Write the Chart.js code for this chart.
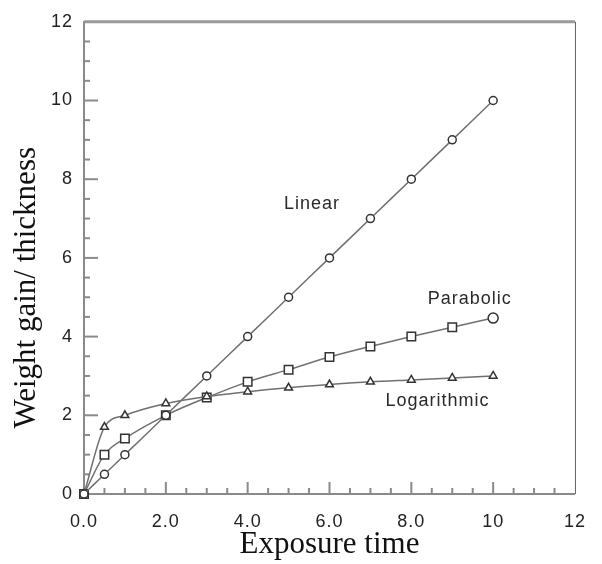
<!DOCTYPE html>
<html>
<head>
<meta charset="utf-8">
<script src="https://cdn.jsdelivr.net/npm/chart.js@4"></script>
<style>
  body { margin: 0; background: #fff; }
</style>
</head>
<body>
<canvas id="oxidationChart" width="602" height="564"></canvas>
<script>
const exposureTime = [0, 0.5, 1, 2, 3, 4, 5, 6, 7, 8, 9, 10];
const linearGain = [0, 0.5, 1, 2, 3, 4, 5, 6, 7, 8, 9, 10];
const parabolicGain = [0, 1.0, 1.41, 2.0, 2.45, 2.85, 3.16, 3.48, 3.75, 4.0, 4.24, 4.47];
const logarithmicGain = [0, 1.7, 2.0, 2.3, 2.48, 2.6, 2.7, 2.78, 2.85, 2.9, 2.95, 3.0];
const xTickLabels = ['0.0', '2.0', '4.0', '6.0', '8.0', '10', '12'];
const yTickLabels = ['0', '2', '4', '6', '8', '10', '12'];
const curveNames = ['Linear', 'Parabolic', 'Logarithmic'];

// where the curve names sit, in data units
const namePos = [[5.57, 7.38], [9.43, 4.95], [8.64, 2.35]];

const toPoints = (ys) => exposureTime.map((t, i) => ({ x: t, y: ys[i] }));

const lineGray = '#707070';
const markGray = '#333';

const frame = {
  id: 'frame',
  beforeDraw(chart) {
    chart.ctx.letterSpacing = '1px';
  },
  beforeDatasetsDraw(chart) {
    const { ctx, chartArea: a, scales: { x, y } } = chart;
    ctx.save();
    ctx.strokeStyle = '#9a9a9a';
    ctx.lineWidth = 3;
    ctx.beginPath();
    ctx.moveTo(a.left, a.top);
    ctx.lineTo(a.right, a.top);
    ctx.stroke();
    ctx.strokeStyle = '#666';
    ctx.lineWidth = 1;
    ctx.beginPath();
    ctx.moveTo(a.right + 0.5, a.top);
    ctx.lineTo(a.right + 0.5, a.bottom);
    ctx.stroke();

    // inward ticks, major every 2, minor every 0.5
    ctx.strokeStyle = '#8a8a8a';
    ctx.lineWidth = 2;
    for (let v = 0.5; v < 12; v += 0.5) {
      const major = v % 2 === 0;
      const py = y.getPixelForValue(v);
      ctx.beginPath();
      ctx.moveTo(a.left, py);
      ctx.lineTo(a.left + (major ? 14 : 6), py);
      ctx.stroke();
      const px = x.getPixelForValue(v);
      ctx.beginPath();
      ctx.moveTo(px, a.bottom);
      ctx.lineTo(px, a.bottom - (major ? 12 : 6));
      ctx.stroke();
    }
    ctx.restore();
  },
  afterDraw(chart) {
    const { ctx, chartArea: a, scales: { x, y } } = chart;
    ctx.save();
    ctx.fillStyle = '#2a2a2a';
    ctx.font = '18px "Liberation Sans", Arial, sans-serif';
    ctx.textAlign = 'center';
    ctx.textBaseline = 'middle';
    ctx.letterSpacing = '1px';
    curveNames.forEach((name, i) => {
      ctx.fillText(name, x.getPixelForValue(namePos[i][0]), y.getPixelForValue(namePos[i][1]));
    });

    ctx.letterSpacing = '0px';
    ctx.fillStyle = '#111';
    ctx.font = '31px "Liberation Serif", "Times New Roman", serif';
    ctx.fillText('Exposure time', (a.left + a.right) / 2, a.bottom + 51);
    ctx.translate(27, a.top + 266);
    ctx.rotate(-Math.PI / 2);
    ctx.fillText('Weight gain/ thickness', 0, 0);
    ctx.restore();
  }
};

const lineStyle = {
  borderColor: lineGray,
  borderWidth: 1.5,
  pointBorderColor: markGray,
  pointBackgroundColor: '#fff',
  pointBorderWidth: 1.5,
  cubicInterpolationMode: 'monotone',
  clip: false
};

new Chart(document.getElementById('oxidationChart'), {
  type: 'line',
  data: {
    datasets: [{
      ...lineStyle,
      label: curveNames[0],
      data: toPoints(linearGain),
      pointStyle: 'circle',
      pointRadius: 4
    }, {
      ...lineStyle,
      label: curveNames[2],
      data: toPoints(logarithmicGain),
      pointStyle: 'triangle',
      pointRadius: 4.5
    }, {
      ...lineStyle,
      label: curveNames[1],
      data: toPoints(parabolicGain),
      pointStyle: exposureTime.map((t, i) => i === exposureTime.length - 1 ? 'circle' : 'rect'),
      pointRadius: exposureTime.map((t, i) => i === exposureTime.length - 1 ? 5 : 6)
    }]
  },
  options: {
    responsive: false,
    animation: false,
    layout: { padding: { top: 14, right: 13, left: 0, bottom: 0 } },
    plugins: {
      legend: { display: false },
      tooltip: { enabled: false }
    },
    scales: {
      x: {
        type: 'linear',
        min: 0,
        max: 12,
        grid: { display: false, drawTicks: false },
        border: { display: true, color: '#8a8a8a', width: 2 },
        afterFit: (s) => { s.height = 70; },
        ticks: {
          stepSize: 2,
          padding: 17,
          color: '#222',
          font: { family: '"Liberation Sans", Arial, sans-serif', size: 18 },
          callback: (v, i) => xTickLabels[i]
        }
      },
      y: {
        min: 0,
        max: 12,
        grid: { display: false, drawTicks: false },
        border: { display: true, color: '#8a8a8a', width: 2 },
        afterFit: (s) => { s.width = 84; },
        ticks: {
          stepSize: 2,
          padding: 11,
          color: '#222',
          font: { family: '"Liberation Sans", Arial, sans-serif', size: 18 },
          callback: (v, i) => yTickLabels[i]
        }
      }
    }
  },
  plugins: [frame]
});
</script>
</body>
</html>
